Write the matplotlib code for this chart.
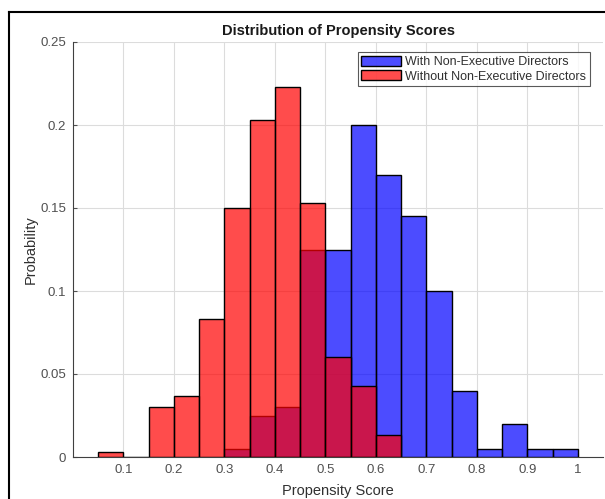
import matplotlib
matplotlib.use("Agg")
import matplotlib.pyplot as plt
from matplotlib.lines import Line2D
import numpy as np

plt.rcParams['font.family'] = ['Liberation Sans', 'DejaVu Sans']

# bin edges (width 0.05) and probabilities
bin_left = [0.05, 0.10, 0.15, 0.20, 0.25, 0.30, 0.35, 0.40, 0.45, 0.50,
            0.55, 0.60, 0.65, 0.70, 0.75, 0.80, 0.85, 0.90, 0.95]
with_ned = [0, 0, 0, 0, 0, 0.005, 0.025, 0.030, 0.125, 0.125,
            0.200, 0.170, 0.145, 0.100, 0.040, 0.005, 0.020, 0.005, 0.005]
without_ned = [0.003, 0, 0.030, 0.037, 0.083, 0.150, 0.203, 0.223, 0.153, 0.060,
               0.043, 0.013, None, None, None, None, None, None, None]
bin_width = 0.05

fig = plt.figure(figsize=(6.05, 4.99), dpi=100)
ax = fig.add_axes([73 / 605, 1 - 457 / 499, 530 / 605, 415 / 499])

# blue first (starts at 0.3), red drawn on top
bl = [b for b, v in zip(bin_left, with_ned) if b >= 0.30]
bv = [v for b, v in zip(bin_left, with_ned) if b >= 0.30]
ax.bar(bl, bv, width=bin_width, align='edge', color=(0, 0, 1, 0.7),
       edgecolor='black', linewidth=1.0, label='With Non-Executive Directors', zorder=3)
rl = [b for b, v in zip(bin_left, without_ned) if v is not None]
rv = [v for v in without_ned if v is not None]
ax.bar(rl, rv, width=bin_width, align='edge', color=(1, 0, 0, 0.7),
       edgecolor='black', linewidth=1.0, label='Without Non-Executive Directors', zorder=3)

ax.set_xlim(0, 1.05)
ax.set_ylim(0, 0.25)
ax.set_xticks(np.arange(0.1, 1.01, 0.1))
ax.set_xticklabels(['0.1', '0.2', '0.3', '0.4', '0.5', '0.6', '0.7', '0.8', '0.9', '1'])
ax.set_yticks([0, 0.05, 0.1, 0.15, 0.2, 0.25])
ax.set_yticklabels(['0', '0.05', '0.1', '0.15', '0.2', '0.25'])
ax.grid(True, color='#dcdcdc', linewidth=0.8, zorder=0)
ax.set_axisbelow(True)
for s in ['top', 'right']:
    ax.spines[s].set_visible(False)
for s in ['left', 'bottom']:
    ax.spines[s].set_color('#404040')
    ax.spines[s].set_linewidth(0.8)
ax.tick_params(labelsize=9.5, colors='#505050', length=3, direction='in', pad=5)

ax.set_title('Distribution of Propensity Scores', fontsize=10.5, fontweight='bold',
             color='#1a1a1a', pad=5)
ax.set_xlabel('Propensity Score', fontsize=10.5, color='#303030', labelpad=6)
ax.set_ylabel('Probability', fontsize=10.5, color='#303030', labelpad=2)

leg = ax.legend(loc='upper right', bbox_to_anchor=(0.975, 0.976), fontsize=9,
                frameon=True, fancybox=False, edgecolor='#303030',
                handlelength=3.2, handleheight=0.9, handletextpad=0.3,
                borderpad=0.3, labelspacing=0.15, borderaxespad=0)
leg.get_frame().set_linewidth(0.8)
for t in leg.get_texts():
    t.set_color('#303030')

# screenshot frame
fig.add_artist(Line2D([9 / 605, 9 / 605], [0, 1 - 12 / 499], color='black', linewidth=1.5))
fig.add_artist(Line2D([9 / 605, 1], [1 - 12 / 499, 1 - 12 / 499], color='black', linewidth=1.5))

fig.savefig('out.png', dpi=100)
